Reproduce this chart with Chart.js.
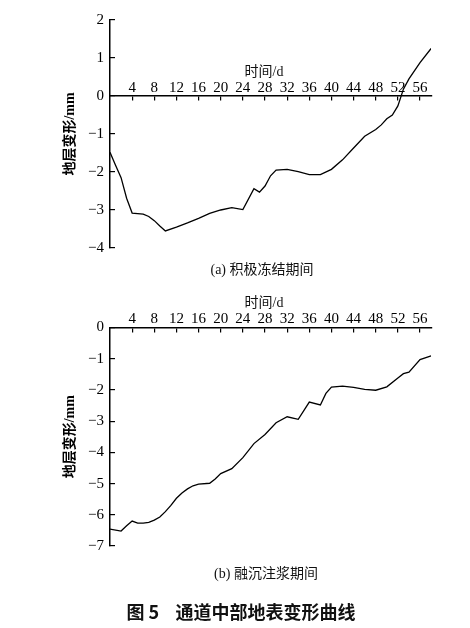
<!DOCTYPE html>
<html>
<head>
<meta charset="utf-8">
<script src="https://cdn.jsdelivr.net/npm/chart.js@4.4.0/dist/chart.umd.min.js"></script>
<style>
  html, body { margin: 0; padding: 0; background: #fff; }
  #page { position: relative; width: 470px; height: 628px; background: #fff; overflow: hidden; }
  .wrap { position: absolute; left: 0; width: 470px; }
  .txt { position: absolute; white-space: nowrap; color: #111; transform: translate(-50%, -50%);
         font-family: "Liberation Serif", "Noto Sans CJK SC", serif; }
</style>
</head>
<body>
<div id="page">
  <div class="wrap" style="top:0px;height:268px;"><canvas id="ca"></canvas></div>
  <div class="wrap" style="top:290px;height:276px;"><canvas id="cb"></canvas></div>
  <div class="txt" style="left:264px;top:70px;font-size:14px;">时间/d</div>
  <div class="txt" style="left:262px;top:268px;font-size:14px;">(a) 积极冻结期间</div>
  <div class="txt" style="left:264px;top:301px;font-size:14px;">时间/d</div>
  <div class="txt" style="left:266px;top:572px;font-size:14px;">(b) 融沉注浆期间</div>
  <div class="txt" style="left:241px;top:611px;font-size:18px;font-weight:bold;font-family:'Noto Sans CJK SC',sans-serif;">图 5&nbsp;&nbsp;&nbsp;&nbsp;通道中部地表变形曲线</div>
</div>
<script>
// ---- data ----
const daysA = [0, 1, 2, 3, 4, 6, 7, 8, 9, 10, 12, 14, 16, 18, 20, 22, 24, 26, 27, 28, 29, 30, 32, 34, 36, 38, 40, 42, 44, 46, 48, 49, 50, 51, 52, 53, 54, 56, 58];
const valuesA = [-1.48, -1.82, -2.15, -2.69, -3.08, -3.11, -3.17, -3.28, -3.42, -3.55, -3.45, -3.34, -3.22, -3.09, -3.0, -2.94, -2.99, -2.44, -2.53, -2.37, -2.1, -1.95, -1.93, -1.99, -2.07, -2.07, -1.93, -1.68, -1.37, -1.06, -0.88, -0.76, -0.6, -0.5, -0.26, 0.18, 0.45, 0.88, 1.25];

const daysB = [0, 2, 3, 4, 5, 6, 7, 8, 9, 10, 11, 12, 13, 14, 15, 16, 18, 19, 20, 22, 24, 26, 28, 30, 32, 34, 36, 38, 39, 40, 42, 44, 46, 48, 50, 52, 53, 54, 56, 58];
const valuesB = [-6.46, -6.52, -6.35, -6.2, -6.27, -6.27, -6.24, -6.17, -6.07, -5.9, -5.7, -5.47, -5.3, -5.17, -5.07, -5.02, -4.99, -4.85, -4.68, -4.52, -4.17, -3.72, -3.43, -3.05, -2.86, -2.94, -2.39, -2.48, -2.11, -1.91, -1.88, -1.92, -1.98, -2.01, -1.9, -1.62, -1.48, -1.43, -1.03, -0.91];

const xTickStep = 4;
const xMax = 58;
const yRangeA = [-4, 2];
const yRangeB = [-7, 0];
const xTitle = '时间/d';
const yTitle = '地层变形/mm';

function toPoints(xs, ys) { return xs.map((x, i) => ({ x: x, y: ys[i] })); }
function fmtNum(v) { return v < 0 ? '\u2212' + Math.abs(v) : String(v); }

const serif = '"Liberation Serif", "Noto Sans CJK SC", serif';

function makeChart(id, xs, ys, yr, pad) {
  return new Chart(document.getElementById(id), {
    type: 'line',
    data: { datasets: [{ data: toPoints(xs, ys), borderColor: '#000', borderWidth: 1.3, pointRadius: 0, tension: 0, fill: false }] },
    options: {
      responsive: true, maintainAspectRatio: false, animation: false,
      layout: { padding: pad },
      plugins: { legend: { display: false }, tooltip: { enabled: false } },
      scales: {
        x: {
          type: 'linear', min: 0, max: xMax,
          position: { y: 0 },
          border: { color: '#000', width: 1.5 },
          grid: { drawOnChartArea: false, color: '#000', tickLength: 4, lineWidth: 1.2 },
          afterBuildTicks: (s) => { s.ticks = s.ticks.filter(t => t.value > 0 && t.value < xMax); },
          ticks: { stepSize: xTickStep, includeBounds: false, autoSkip: false, maxRotation: 0,
                   padding: -21, color: '#000', font: { family: serif, size: 15 } }
        },
        y: {
          type: 'linear', min: yr[0], max: yr[1], position: 'left',
          border: { color: '#000', width: 1.5 },
          grid: { drawOnChartArea: false, color: '#000', tickLength: -5, lineWidth: 1.2 },
          afterFit: (s) => { s.width = 60; },
          ticks: { stepSize: 1, padding: 11, color: '#000', font: { family: serif, size: 15 }, callback: fmtNum },
          title: { display: true, text: yTitle, color: '#000', padding: { top: 12, bottom: 0 },
                   font: { family: serif, size: 14, weight: 'bold' } }
        }
      }
    }
  });
}

makeChart('ca', daysA, valuesA, yRangeA, { top: 14, left: 50, right: 38.9, bottom: 14 });
makeChart('cb', daysB, valuesB, yRangeB, { top: 37.5, left: 50, right: 38.9, bottom: 12 });
</script>
</body>
</html>
